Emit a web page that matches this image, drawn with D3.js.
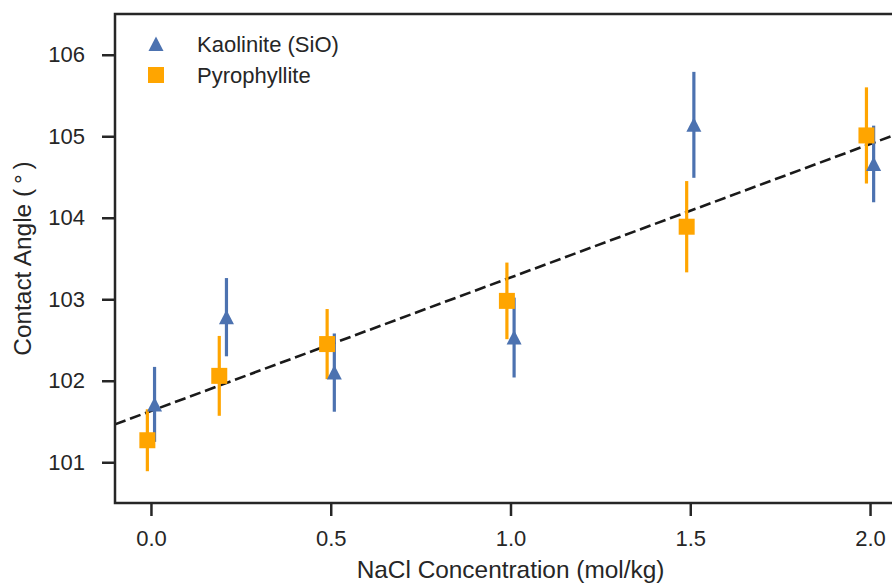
<!DOCTYPE html>
<html>
<head>
<meta charset="utf-8">
<script src="https://cdn.jsdelivr.net/npm/d3@7"></script>
<style>
  html, body { margin: 0; padding: 0; background: #fff; }
  svg { display: block; font-family: "Liberation Sans", Arial, sans-serif; }
</style>
</head>
<body>
<svg id="chart" width="892" height="584"></svg>
<script>
// NaCl concentration (mol/kg) at which each contact angle was measured
const concentration = [0.0, 0.2, 0.5, 1.0, 1.5, 2.0];

// Kaolinite (SiO surface): mean contact angle and its error
const kaoliniteAngle = [101.71, 102.78, 102.10, 102.53, 105.14, 104.66];
const kaoliniteErr   = [0.46, 0.48, 0.48, 0.49, 0.65, 0.47];

// Pyrophyllite: mean contact angle and its error
const pyroAngle = [101.27, 102.06, 102.45, 102.98, 103.89, 105.01];
const pyroErr   = [0.38, 0.49, 0.43, 0.47, 0.56, 0.59];

const xTicks = [0.0, 0.5, 1.0, 1.5, 2.0];
const yTicks = [101, 102, 103, 104, 105, 106];

const ink = "#262626";
const blue = "#4c72b0";
const orange = "#ffa500";

const margin = { left: 115, top: 14, right: 906, bottom: 503 };
const svg = d3.select("#chart");

const x = d3.scaleLinear().domain([-0.1, 2.1]).range([margin.left, margin.right]);
const y = d3.scaleLinear().domain([100.5, 106.5]).range([margin.bottom, margin.top]);

// Least-squares line through both series together
const allX = concentration.concat(concentration);
const allY = kaoliniteAngle.concat(pyroAngle);
const mx = d3.mean(allX), my = d3.mean(allY);
const slope = d3.sum(allX, (v, i) => (v - mx) * (allY[i] - my)) /
              d3.sum(allX, v => (v - mx) * (v - mx));
const intercept = my - slope * mx;

svg.append("clipPath").attr("id", "plotClip")
  .append("rect")
  .attr("x", margin.left).attr("y", margin.top)
  .attr("width", margin.right - margin.left)
  .attr("height", margin.bottom - margin.top);

const plot = svg.append("g").attr("clip-path", "url(#plotClip)");

plot.append("line")
  .attr("x1", x(-0.1)).attr("y1", y(intercept + slope * -0.1))
  .attr("x2", x(2.1)).attr("y2", y(intercept + slope * 2.1))
  .attr("stroke", "#1a1a1a").attr("stroke-width", 2.6)
  .attr("stroke-dasharray", "11.2 4.8");

const series = [
  { name: "Kaolinite (SiO)", vals: kaoliniteAngle, errs: kaoliniteErr, color: blue, shift: 0.01, shape: "triangle" },
  { name: "Pyrophyllite", vals: pyroAngle, errs: pyroErr, color: orange, shift: -0.01, shape: "square" }
];

function markerPath(shape) {
  if (shape === "triangle") return "M0,-7.5L7.5,7L-7.5,7Z";
  return "M-8,-8H8V8H-8Z";
}

// error bars first, then markers on top
series.forEach(s => {
  plot.append("g").selectAll("line")
    .data(concentration)
    .join("line")
    .attr("x1", (c) => x(c + s.shift)).attr("x2", (c) => x(c + s.shift))
    .attr("y1", (c, i) => y(s.vals[i] - s.errs[i]))
    .attr("y2", (c, i) => y(s.vals[i] + s.errs[i]))
    .attr("stroke", s.color).attr("stroke-width", 3.2);
});
series.forEach(s => {
  plot.append("g").selectAll("path")
    .data(concentration)
    .join("path")
    .attr("transform", (c, i) => `translate(${x(c + s.shift)},${y(s.vals[i])})`)
    .attr("d", markerPath(s.shape))
    .attr("fill", s.color);
});

// axes
const xAxis = svg.append("g")
  .attr("transform", `translate(0,${margin.bottom})`)
  .call(d3.axisBottom(x).tickValues(xTicks).tickFormat(d3.format(".1f")).tickSize(13).tickPadding(14));
const yAxis = svg.append("g")
  .attr("transform", `translate(${margin.left},0)`)
  .call(d3.axisLeft(y).tickValues(yTicks).tickFormat(d3.format("d")).tickSize(13).tickPadding(17));

[xAxis, yAxis].forEach(a => {
  a.select(".domain").remove();
  a.selectAll(".tick line").attr("stroke", ink).attr("stroke-width", 2.5);
  a.selectAll(".tick text").attr("fill", ink).style("font-size", "22px")
    .style("font-family", "'Liberation Sans', Arial, sans-serif");
});

// frame
svg.append("rect")
  .attr("x", margin.left).attr("y", margin.top)
  .attr("width", margin.right - margin.left)
  .attr("height", margin.bottom - margin.top)
  .attr("fill", "none").attr("stroke", ink).attr("stroke-width", 2.5);

// axis titles
svg.append("text")
  .attr("x", (margin.left + margin.right) / 2).attr("y", 578)
  .attr("text-anchor", "middle").attr("fill", ink)
  .style("font-size", "24.4px")
  .text("NaCl Concentration (mol/kg)");

svg.append("text")
  .attr("transform", `translate(31,${(margin.top + margin.bottom) / 2}) rotate(-90)`)
  .attr("text-anchor", "middle").attr("fill", ink)
  .style("font-size", "24.4px")
  .text("Contact Angle (\u2009°\u2009)");

// legend
const legend = svg.append("g");
series.forEach((s, i) => {
  const row = legend.append("g").attr("transform", `translate(156,${44 + i * 31})`);
  row.append("path").attr("d", markerPath(s.shape)).attr("fill", s.color);
  row.append("text").attr("x", 41).attr("dy", "0.35em")
    .attr("fill", ink).style("font-size", "22px").text(s.name);
});
</script>
</body>
</html>
